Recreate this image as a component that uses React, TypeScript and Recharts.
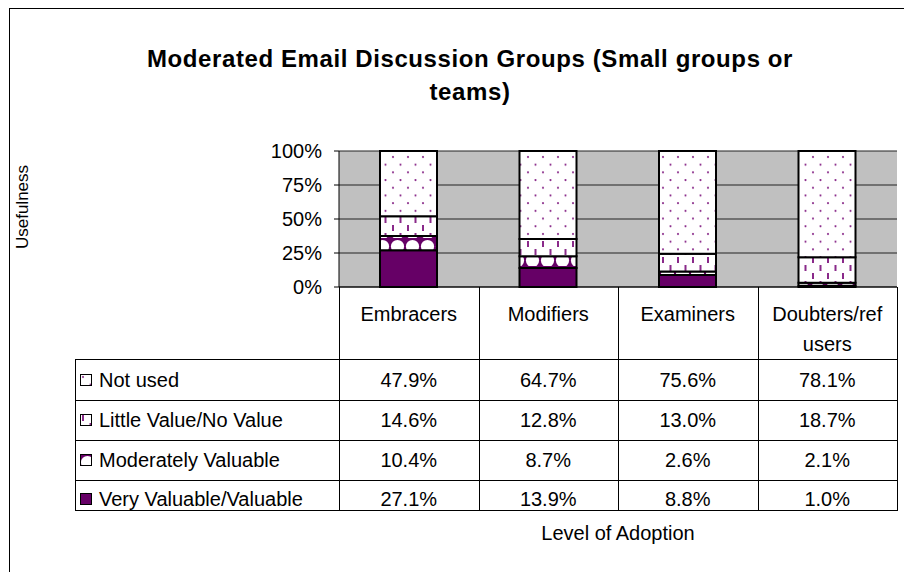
import React from 'react'
import { BarChart, Bar, XAxis, YAxis, CartesianGrid, Legend, Text } from 'recharts'

const categories = ['Embracers', 'Modifiers', 'Examiners', 'Doubters/ref users']
const notUsed = [47.9, 64.7, 75.6, 78.1]
const littleValue = [14.6, 12.8, 13.0, 18.7]
const moderatelyValuable = [10.4, 8.7, 2.6, 2.1]
const veryValuable = [27.1, 13.9, 8.8, 1.0]
const yTicks = [0, 0.25, 0.5, 0.75, 1]

const seriesNames = {
  notUsed: 'Not used',
  littleValue: 'Little Value/No Value',
  moderatelyValuable: 'Moderately Valuable',
  veryValuable: 'Very Valuable/Valuable',
}

const data = categories.map((name, i) => ({
  name,
  veryValuable: veryValuable[i],
  moderatelyValuable: moderatelyValuable[i],
  littleValue: littleValue[i],
  notUsed: notUsed[i],
}))

// table rows, top to bottom (as in the Excel data table)
const tableRows = [
  { key: 'notUsed', values: notUsed },
  { key: 'littleValue', values: littleValue },
  { key: 'moderatelyValuable', values: moderatelyValuable },
  { key: 'veryValuable', values: veryValuable },
]

const fills: Record<string, string> = {
  veryValuable: '#660066',
  moderatelyValuable: 'url(#pScallop)',
  littleValue: 'url(#pDash)',
  notUsed: 'url(#pDots)',
}

const FONT = '"Liberation Sans", Arial, sans-serif'
const W = 904
const H = 572
const MARGIN = { top: 151, right: 7, bottom: 62, left: 0 }
const Y_AXIS_W = 339
const X_AXIS_H = 223
const PLOT_LEFT = MARGIN.left + Y_AXIS_W
const PLOT_RIGHT = W - MARGIN.right
const COL_W = (PLOT_RIGHT - PLOT_LEFT) / categories.length
const HEADER_BOTTOM = 359
const ROW_TOPS = [359, 400, 440, 480]
const TABLE_BOTTOM = 510
const ROW_CENTERS = [380, 420, 460, 499]

const px = (v: number) => Math.round(v) + 0.5

function TableColumn(props: any) {
  const { x, y, payload, index } = props
  const left = px(x - COL_W / 2)
  const right = px(x + COL_W / 2)
  const top = y
  return (
    <g>
      {index === 0 && <line x1={left} x2={left} y1={top} y2={TABLE_BOTTOM + 1} stroke="#000" />}
      <line x1={right} x2={right} y1={top} y2={TABLE_BOTTOM + 1} stroke="#000" />
      {[...ROW_TOPS, TABLE_BOTTOM].map((ly) => (
        <line key={ly} x1={left} x2={right} y1={px(ly)} y2={px(ly)} stroke="#000" />
      ))}
      <Text
        x={x}
        y={(top + HEADER_BOTTOM) / 2 - 2}
        width={COL_W - 12}
        textAnchor="middle"
        verticalAnchor="middle"
        lineHeight={30}
        fill="#000"
        style={{ fontSize: 20, fontFamily: FONT }}
      >
        {payload.value}
      </Text>
      {tableRows.map((r, ri) => (
        <text
          key={r.key}
          x={x}
          y={ROW_CENTERS[ri]}
          dy="0.355em"
          textAnchor="middle"
          fill="#000"
          fontSize={20}
          fontFamily={FONT}
        >
          {r.values[index].toFixed(1)}%
        </text>
      ))}
    </g>
  )
}

function TableLegend() {
  const heights = ROW_TOPS.map((t, i) => (i < ROW_TOPS.length - 1 ? ROW_TOPS[i + 1] : TABLE_BOTTOM) - t)
  return (
    <div
      style={{
        width: PLOT_LEFT - 75,
        borderLeft: '1px solid #000',
        borderBottom: '1px solid #000',
        fontFamily: FONT,
        fontSize: 20,
        color: '#000',
      }}
    >
      {tableRows.map((r, i) => (
        <div
          key={r.key}
          style={{
            position: 'relative',
            height: heights[i] - 1,
            borderTop: '1px solid #000',
            overflow: 'hidden',
          }}
        >
          <div
            style={{
              position: 'absolute',
              left: 4,
              top: ROW_CENTERS[i] - ROW_TOPS[i] - 21,
              height: 40,
              display: 'flex',
              alignItems: 'center',
              whiteSpace: 'nowrap',
            }}
          >
            <svg width={12} height={12} style={{ marginRight: 7 }}>
              <rect x={0.5} y={0.5} width={11} height={11} fill={fills[r.key]} stroke="#000" />
            </svg>
            <span>{seriesNames[r.key as keyof typeof seriesNames]}</span>
          </div>
        </div>
      ))}
    </div>
  )
}

export default function App() {
  return (
    <div style={{ position: 'absolute', left: 0, top: 0, width: W, height: H, overflow: 'hidden', background: '#fff' }}>
      <div style={{ position: 'absolute', left: 9, top: 8, width: 960, height: 640, border: '1px solid #000' }} />
      <div
        style={{
          position: 'absolute',
          left: 0,
          top: 42,
          width: 940,
          textAlign: 'center',
          fontFamily: FONT,
          fontWeight: 'bold',
          fontSize: 24,
          letterSpacing: 0.6,
          lineHeight: '33px',
          color: '#000',
        }}
      >
        <div>Moderated Email Discussion Groups (Small groups or</div>
        <div>teams)</div>
      </div>
      <div style={{ position: 'absolute', left: 0, top: 0 }}>
        <BarChart width={W} height={H} data={data} margin={MARGIN} stackOffset="expand">
          <defs>
            <pattern id="pDots" width={15} height={15.4} patternUnits="userSpaceOnUse">
              <rect width={15} height={15.4} fill="#fff" />
              <circle cx={3} cy={3} r={1.1} fill="#8a2a8a" />
              <circle cx={10.5} cy={10.7} r={1.1} fill="#8a2a8a" />
            </pattern>
            <pattern id="pDash" width={15} height={16} patternUnits="userSpaceOnUse">
              <rect width={15} height={16} fill="#fff" />
              <rect x={2} y={1} width={2} height={6} fill="#8a2a8a" />
              <rect x={9.5} y={9} width={2} height={6} fill="#8a2a8a" />
            </pattern>
            <pattern id="pScallop" width={15} height={14} patternUnits="userSpaceOnUse">
              <rect width={15} height={14} fill="#660066" />
              <circle cx={7.5} cy={8.5} r={6.6} fill="#fff" />
            </pattern>
          </defs>
          <CartesianGrid vertical={false} stroke="#222" fill="#C0C0C0" fillOpacity={1} />
          <XAxis
            dataKey="name"
            height={X_AXIS_H}
            interval={0}
            tickLine={false}
            tickSize={0}
            tickMargin={0}
            axisLine={{ stroke: '#000' }}
            tick={(p: any) => <TableColumn {...p} />}
            label={({ viewBox }: any) => (
              <text
                x={viewBox.x + viewBox.width / 2}
                y={viewBox.y + viewBox.height + 30}
                textAnchor="middle"
                fill="#000"
                fontSize={20}
                fontFamily={FONT}
              >
                Level of Adoption
              </text>
            )}
          />
          <YAxis
            width={Y_AXIS_W}
            ticks={yTicks}
            domain={[0, 1]}
            tickFormatter={(v: number) => `${Math.round(v * 100)}%`}
            tickSize={5}
            tickMargin={12}
            tickLine={{ stroke: '#000' }}
            axisLine={{ stroke: '#000' }}
            tick={{ fill: '#000', fontSize: 20, fontFamily: FONT }}
            label={({ viewBox }: any) => {
              const cy = viewBox.y + viewBox.height / 2 - 12
              return (
                <text
                  x={22}
                  y={cy}
                  dy="0.355em"
                  transform={`rotate(-90 22 ${cy})`}
                  textAnchor="middle"
                  fill="#000"
                  fontSize={17}
                  fontFamily={FONT}
                >
                  Usefulness
                </text>
              )
            }}
          />
          <Legend
            layout="horizontal"
            verticalAlign="middle"
            align="center"
            content={() => <TableLegend />}
            wrapperStyle={{ position: 'absolute', left: 75, top: ROW_TOPS[0], width: PLOT_LEFT - 75, margin: 0, padding: 0 }}
          />
          {(['veryValuable', 'moderatelyValuable', 'littleValue', 'notUsed'] as const).map((k) => (
            <Bar
              key={k}
              dataKey={k}
              name={seriesNames[k]}
              stackId="s"
              fill={fills[k]}
              stroke="#000"
              strokeWidth={2}
              barSize={57}
              isAnimationActive={false}
            />
          ))}
        </BarChart>
      </div>
    </div>
  )
}
